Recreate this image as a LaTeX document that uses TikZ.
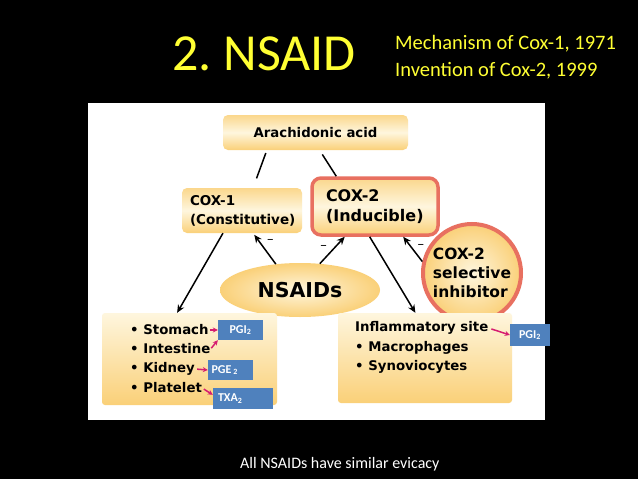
\documentclass[tikz,border=0pt]{standalone}
\usepackage{fontspec}
\setmainfont{Carlito}
\newfontfamily\diagfont{DejaVu Sans}
\usetikzlibrary{arrows.meta, positioning, calc, shapes.geometric}
\definecolor{tituloamarillo}{RGB}{255,255,51}
\definecolor{cajaclaro}{RGB}{254,246,222}
\definecolor{cajaoscuro}{RGB}{250,208,120}
\definecolor{rojocox}{RGB}{232,112,96}
\definecolor{azulpg}{RGB}{79,129,189}
\definecolor{rosaflecha}{RGB}{214,28,112}
\frenchspacing

\begin{document}
\begin{tikzpicture}[x=1pt, y=-1pt,
  caja/.style={draw=none, rounded corners=5pt, top color=cajaoscuro!85, bottom color=cajaoscuro,
               middle color=cajaclaro, inner sep=0pt, align=left,
               font=\diagfont\bfseries\fontsize{13.5}{19}\selectfont},
  lista/.style={draw=none, rounded corners=3pt, top color=cajaclaro, bottom color=cajaoscuro,
                inner sep=0pt},
  item/.style={anchor=west, inner sep=0pt, font=\diagfont\bfseries\fontsize{13.3}{16}\selectfont},
  pg/.style={fill=azulpg, text=white, inner sep=0pt, minimum height=20pt,
             font=\bfseries\fontsize{12}{14}\selectfont},
  flecha/.style={-{Stealth[length=8pt, width=7pt]}, line width=1.5pt},
  linea/.style={line width=1.5pt},
  rosa/.style={-{Stealth[length=5pt, width=5pt]}, line width=1.5pt, color=rosaflecha},
  menos/.style={font=\diagfont\fontsize{13}{14}\selectfont, inner sep=1pt}
]
\fill[black] (0,0) rectangle (638,479);
\useasboundingbox (0,0) rectangle (638,479);
\fill[white] (88,103) rectangle (545,420);

% title
\node[anchor=base west, inner sep=0pt, text=tituloamarillo, font=\fontsize{52}{60}\selectfont] (titulo) at (172,70) {2. NSAID};
\node[anchor=base west, inner sep=0pt, text=tituloamarillo, font=\fontsize{20.5}{25}\selectfont] (sub1) at (395,49) {Mechanism of Cox-1, 1971};
\node[anchor=base west, inner sep=0pt, text=tituloamarillo, font=\fontsize{20.5}{25}\selectfont] (sub2) at ($(sub1.base west)+(0,27)$) {Invention of Cox-2, 1999};

% enzymes
\node[caja, minimum width=185pt, minimum height=35pt, align=center, font=\diagfont\bfseries\fontsize{13.3}{16}\selectfont] (arach) at (315.5,132.5) {Arachidonic acid};
\node[caja, minimum width=120pt, minimum height=45pt, text width=104pt] (cox1) at (242,210.5) {COX-1\\(Constitutive)};
\node[caja, draw=rojocox, line width=3.5pt, rounded corners=9pt, minimum width=126pt, minimum height=57pt,
      text width=98pt, font=\diagfont\bfseries\fontsize{16}{20}\selectfont] (cox2) at (375,206.5) {COX-2\\(Inducible)};
\node[circle, draw=rojocox, line width=4pt, inner color=cajaclaro, outer color=cajaoscuro, minimum size=98pt,
      inner sep=0pt, align=left, font=\diagfont\bfseries\fontsize{15.5}{19}\selectfont] (inhib) at (472,273) {COX-2\\selective\\inhibitor};
\node[ellipse, inner color=cajaclaro, outer color=cajaoscuro, minimum width=160pt, minimum height=54pt,
      inner sep=0pt, font=\diagfont\bfseries\fontsize{20.5}{24}\selectfont] (nsaid) at (300,290) {NSAIDs};

% target tissues
\node[lista, minimum width=175pt, minimum height=92pt] (izq) at (189.5,359) {};
\node[item] (estomago) at (130,330) {• Stomach};
\node[item] (intestino) at (130,349) {• Intestine};
\node[item] (rinon) at (130,369) {• Kidney};
\node[item] (plaqueta) at (130,388) {• Platelet};

\node[lista, minimum width=174pt, minimum height=90pt] (der) at (425,358) {};
\node[item] (inflam) at (355,328) {Inflammatory site};
\node[item] (macro) at (355,348) {• Macrophages};
\node[item] (sino) at (355,367) {• Synoviocytes};

% prostanoids
\node[pg, minimum width=45pt] (pgi) at (240.5,330) {PGI\textsubscript{2}};
\node[pg, minimum width=45pt, text width=38pt, align=left] (pge) at (230.5,370) {PGE\,\textsubscript{2}};
\node[pg, minimum width=60pt, minimum height=21pt, text width=50pt, align=left] (txa) at (243,398.5) {TXA\textsubscript{2}};
\node[pg, minimum width=40pt, minimum height=22pt] (pgider) at (530,335) {PGI\textsubscript{2}};

\draw[linea, shorten <=3pt, shorten >=10pt] (arach.200) -- (cox1.64);
\draw[linea, shorten <=5pt] (arach.283) -- (cox2.142);
\draw[flecha] (cox1.230) -- (izq.105);
\draw[flecha] (cox2.260) -- (der.102);
\draw[flecha, shorten >=2pt] (nsaid.133) -- node[menos, pos=0.72, right=6pt]{–} (cox1.296);
\draw[flecha] (nsaid.53) -- node[menos, pos=0.59, left=6pt]{–} (cox2.225);
\draw[flecha] (inhib.167) -- node[menos, pos=0.6, right=5pt]{–} (cox2.313);

\draw[rosa, shorten <=1pt] (estomago.east) -- (pgi.west);
\draw[rosa, shorten <=1pt] (intestino.east) -- (pgi.south west);
\draw[rosa, shorten <=2pt] (rinon.east) -- (pge.west);
\draw[rosa, shorten <=2pt] (plaqueta.east) -- (txa.173);
\draw[rosa, shorten <=3pt] (inflam.east) -- (pgider.west);

\node[anchor=base west, inner sep=0pt, text=white, font=\fontsize{16}{19}\selectfont] (nota) at (240,468) {All NSAIDs have similar evicacy};
\end{tikzpicture}
\end{document}
